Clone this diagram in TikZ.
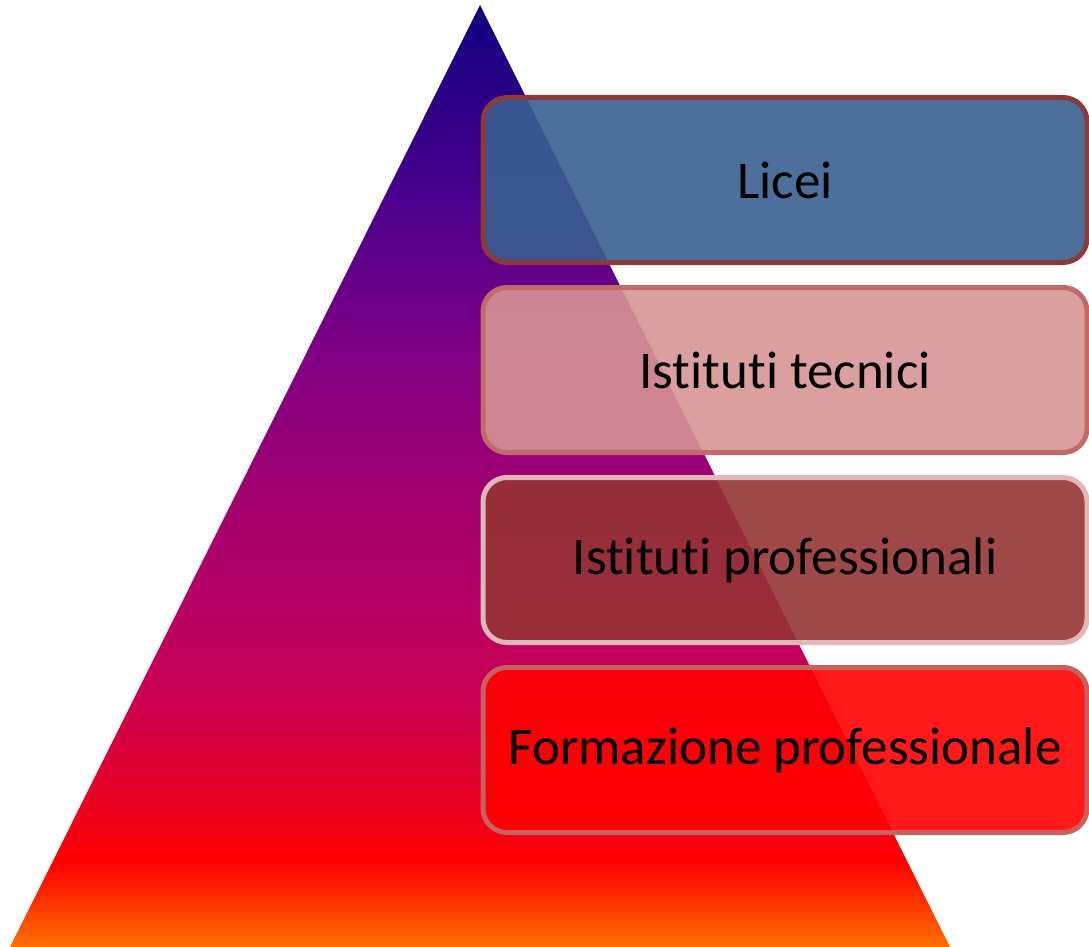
\documentclass[tikz,border=0pt]{standalone}
\usepackage{fontspec}
\setmainfont{Carlito}[Ligatures=NoCommon]
\usetikzlibrary{positioning}

\definecolor{pyrA}{RGB}{14,0,128}
\definecolor{pyrB}{RGB}{75,0,140}
\definecolor{pyrC}{RGB}{126,0,133}
\definecolor{pyrD}{RGB}{163,0,110}
\definecolor{pyrE}{RGB}{181,0,102}
\definecolor{pyrF}{RGB}{204,0,80}
\definecolor{pyrG}{RGB}{228,0,40}
\definecolor{pyrH}{RGB}{255,0,0}
\definecolor{pyrI}{RGB}{255,112,0}

\pgfdeclareverticalshading{pyramid}{100bp}{
  color(0bp)=(pyrI); color(25bp)=(pyrI); color(29.5bp)=(pyrH);
  color(33.5bp)=(pyrG); color(38bp)=(pyrF); color(43.4bp)=(pyrE);
  color(48.7bp)=(pyrD); color(56.7bp)=(pyrC); color(64.6bp)=(pyrB);
  color(75bp)=(pyrA); color(100bp)=(pyrA)}

\begin{document}
\begin{tikzpicture}[
  x=1pt, y=-1pt,
  box/.style={draw, line width=5pt, rounded corners=24pt, minimum width=604pt,
    minimum height=165pt, fill opacity=0.9, text opacity=1, inner sep=0pt,
    font=\fontsize{53}{58}\selectfont},
]
\useasboundingbox (0,0) rectangle (1089,947);

% Pyramid in the back
\shade[shading=pyramid] (480,5) -- (950,947) -- (10,947) -- cycle;

% Stack of boxes, 20pt apart
\node[box, draw={rgb,255:red,139;green,58;blue,58}, fill={rgb,255:red,57;green,95;blue,144}] (licei) at (785,180) {Licei};
\node[box, draw={rgb,255:red,192;green,106;blue,106}, fill={rgb,255:red,215;green,149;blue,149}, below=20pt of licei] (tecnici) {Istituti tecnici};
\node[box, draw={rgb,255:red,224;green,184;blue,184}, fill={rgb,255:red,149;green,52;blue,52}, below=20pt of tecnici] (profess) {Istituti professionali};
\node[box, draw={rgb,255:red,200;green,96;blue,96}, fill={rgb,255:red,255;green,0;blue,0}, below=20pt of profess] (formaz) {Formazione professionale};

\end{tikzpicture}
\end{document}
